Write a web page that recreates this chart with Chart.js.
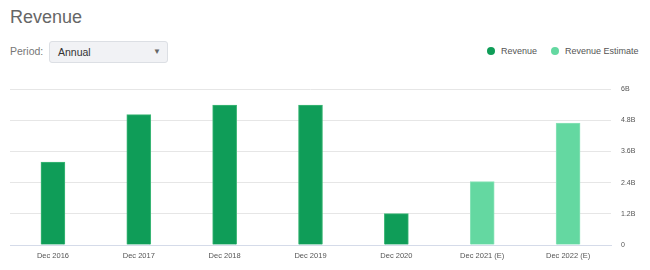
<!DOCTYPE html>
<html>
<head>
<meta charset="utf-8">
<script src="https://cdn.jsdelivr.net/npm/chart.js@4/dist/chart.umd.min.js"></script>
<style>
  body { margin: 0; width: 650px; height: 270px; background: #fff; font-family: "Liberation Sans", Arial, sans-serif; position: relative; overflow: hidden; }
  #title { position: absolute; left: 10px; top: 7px; font-size: 18px; color: #666; }
  #period { position: absolute; left: 10px; top: 45px; font-size: 10.5px; color: #777; }
  #select { position: absolute; left: 49px; top: 41px; width: 119px; height: 22px; background: #f1f2f5; border: 1px solid #dcdfe4; border-radius: 3px; box-sizing: border-box; }
  #select span { position: absolute; left: 8px; top: 4px; font-size: 10.5px; color: #333; }
  #select i { position: absolute; right: 6px; top: 5px; font-size: 8px; font-style: normal; color: #666; }
  .leg { position: absolute; top: 46px; font-size: 9px; color: #555; white-space: nowrap; }
  .dot { display: inline-block; width: 8px; height: 8px; border-radius: 50%; vertical-align: -1px; margin-right: 6px; }
  #wrap { position: absolute; left: 0; top: 75px; width: 650px; height: 195px; }
</style>
</head>
<body>
<div id="title">Revenue</div>
<div id="period">Period:</div>
<div id="select"><span>Annual</span><i>▼</i></div>
<div class="leg" style="left:487px"><span class="dot" style="background:#0f9d58"></span>Revenue</div>
<div class="leg" style="left:551px"><span class="dot" style="background:#64d8a1"></span>Revenue Estimate</div>
<div id="wrap"><canvas id="myChartRevenue"></canvas></div>
<script>
const categorias = ['Dec 2016', 'Dec 2017', 'Dec 2018', 'Dec 2019', 'Dec 2020', 'Dec 2021 (E)', 'Dec 2022 (E)'];
const receita = [3.19, 5.02, 5.39, 5.39, 1.21, null, null];
const estimativa = [null, null, null, null, null, 2.44, 4.70];
const yTickLabels = ['0', '1.2B', '2.4B', '3.6B', '4.8B', '6B'];

var ctxRevenue = document.getElementById('myChartRevenue').getContext('2d');
myChartRevenue = new Chart(ctxRevenue, {
    type: "bar",
    data: {
        labels: categorias,
        datasets: [
            {
                label: 'Revenue',
                data: receita,
                backgroundColor: "#0f9d58",
                borderColor: "#3fb878",
                borderWidth: { left: 1, right: 1, top: 1, bottom: 0 },
                barThickness: 24,
                grouped: false
            },
            {
                label: 'Revenue Estimate',
                data: estimativa,
                backgroundColor: "#64d8a1",
                borderColor: "#8be3b9",
                borderWidth: { left: 1, right: 1, top: 1, bottom: 0 },
                barThickness: 24,
                grouped: false
            }
        ]
    },
    options: {
        responsive: true,
        maintainAspectRatio: false,
        animation: false,
        layout: { padding: { left: 10, top: 9, right: 0, bottom: 0 } },
        plugins: { legend: { display: false }, tooltip: { enabled: false } },
        scales: {
            x: {
                grid: { display: false, drawTicks: false },
                border: { display: true, color: "#d5dbe9", width: 1 },
                ticks: { color: "#555", font: { size: 7.5, family: "'Liberation Sans', Arial" }, padding: 6, maxRotation: 0, autoSkip: false },
                afterFit: function (axis) { axis.height = 25; }
            },
            y: {
                position: 'right',
                min: 0,
                max: 6,
                grid: { color: "#e6e6e6", drawTicks: false },
                border: { display: false },
                ticks: {
                    stepSize: 1.2,
                    color: "#555",
                    padding: 10,
                    font: { size: 7, family: "'Liberation Sans', Arial" },
                    callback: function (v, i) { return yTickLabels[i]; }
                },
                afterFit: function (axis) { axis.width = 39; }
            }
        }
    }
});
</script>
</body>
</html>
